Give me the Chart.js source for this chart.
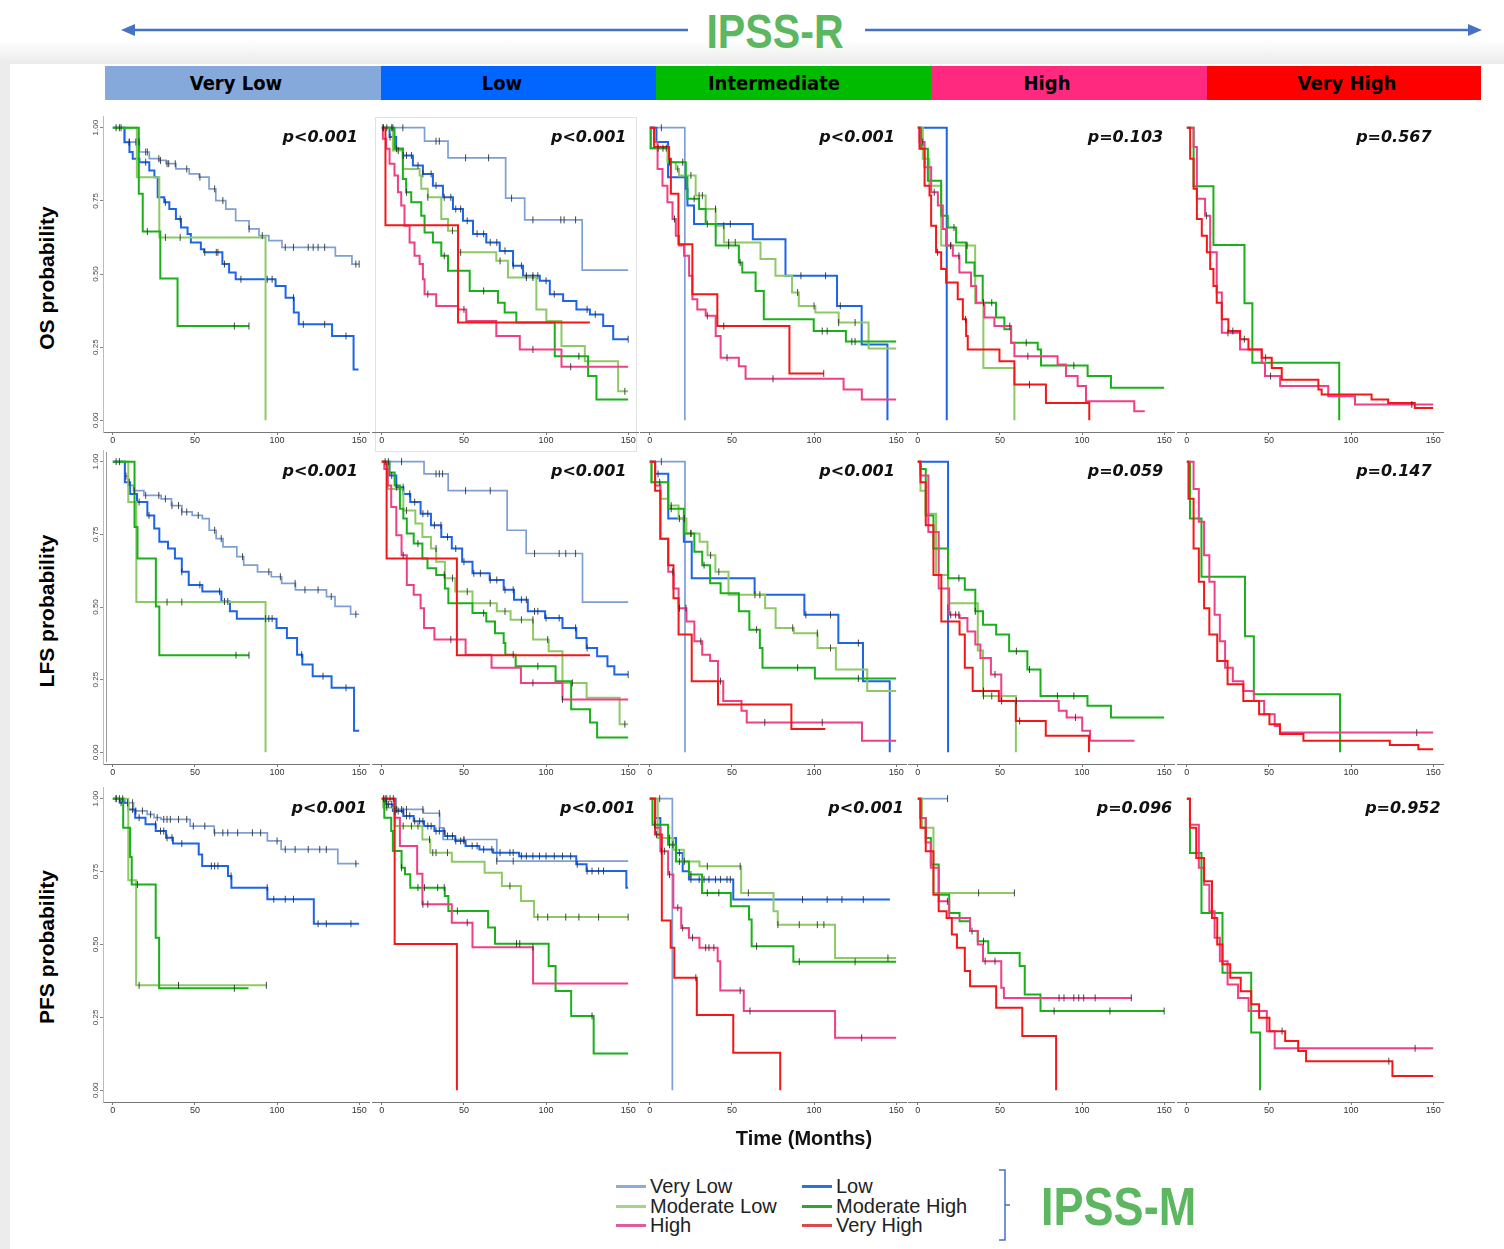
<!DOCTYPE html>
<html><head><meta charset="utf-8">
<script src="https://cdn.jsdelivr.net/npm/chart.js@4.4.1/dist/chart.umd.min.js"></script>
<style>
html,body{margin:0;padding:0;}
body{width:1504px;height:1249px;position:relative;overflow:hidden;background:#fff;font-family:"Liberation Sans",Arial,sans-serif;}
.abs{position:absolute;}
#bgT{left:0;top:40px;width:1504px;height:26px;background:linear-gradient(#ffffff,#e9e9e9);}
#bgL{left:0;top:60px;width:10px;height:1189px;background:#ececec;}
#card{left:10px;top:64px;width:1494px;height:1185px;background:#fff;}
.band{top:66px;height:34px;}
.bandtxt{top:66px;height:34px;line-height:34px;font-family:"DejaVu Sans Condensed","DejaVu Sans",sans-serif;font-weight:bold;font-size:20px;color:#000;transform:translateX(-50%);white-space:nowrap;}
.pval{font-family:"DejaVu Sans",sans-serif;font-weight:bold;font-style:italic;font-size:16px;color:#111;text-align:right;width:200px;height:20px;line-height:20px;white-space:nowrap;}
.ylab{font-weight:bold;font-size:21px;color:#000;white-space:nowrap;transform:translate(-50%,-50%) rotate(-90deg);}
.leg{font-size:20px;color:#222;line-height:20px;white-space:nowrap;}
.legline{height:2.5px;width:30px;}
canvas{position:absolute;}
</style>
</head><body>
<div id="bgT" class="abs"></div>
<div id="bgL" class="abs"></div>
<div id="card" class="abs"></div>
<div class="abs" style="left:375px;top:117px;width:260px;height:333px;border:1px solid #e2e2e2;"></div>
<div class="abs" style="left:106px;top:452px;width:1px;height:310px;background:#9a9a9a;"></div>
<svg class="abs" style="left:0;top:0" width="1504" height="60">
  <line x1="132" y1="30" x2="688" y2="30" stroke="#4472C4" stroke-width="2.5"/>
  <polygon points="121,30 135,24 135,36" fill="#4472C4"/>
  <line x1="865" y1="30" x2="1471" y2="30" stroke="#4472C4" stroke-width="2.5"/>
  <polygon points="1482,30 1468,24 1468,36" fill="#4472C4"/>
</svg>
<div class="abs" style="left:775px;top:5px;transform:translateX(-50%) scaleX(0.84);font-family:'Liberation Sans Narrow','Liberation Sans',sans-serif;font-weight:bold;font-size:49px;line-height:52px;color:#5DB760;white-space:nowrap;">IPSS-R</div>
<div id="header"></div>
<div id="plots"></div>
<div class="abs ylab" style="left:47px;top:278px;">OS probability</div>
<div class="abs ylab" style="left:47px;top:611px;">LFS probability</div>
<div class="abs ylab" style="left:47px;top:947px;">PFS probability</div>
<div class="abs" style="left:804px;top:1138px;transform:translate(-50%,-50%);font-weight:bold;font-size:20px;color:#111;white-space:nowrap;">Time (Months)</div>
<div id="legend"></div>
<svg class="abs" style="left:990px;top:1160px" width="30" height="90">
  <path d="M9,10 L15,10 L15,80 L9,80 M15,45 L20,45" stroke="#4472C4" stroke-width="1.5" fill="none"/>
</svg>
<div class="abs" style="left:1041px;top:1179px;transform-origin:0 0;transform:scaleX(0.85);font-family:'Liberation Sans Narrow','Liberation Sans',sans-serif;font-weight:bold;font-size:53px;line-height:56px;color:#5DB760;white-space:nowrap;">IPSS-M</div>
<script>
// ---------- labels ----------
const IPSSR_GROUPS = ['Very Low','Low','Intermediate','High','Very High'];
const IPSSR_COLORS = ['#86A9DC','#0066FF','#00BB00','#FF2A7F','#FF0000'];
const IPSSM_KEYS = ['VL','L','ML','MH','H','VH'];
const IPSSM_NAMES = ['Very Low','Low','Moderate Low','Moderate High','High','Very High'];
const IPSSM_COLORS = ['#7E9FD4','#1C64E8','#8DC965','#19B019','#EF3F86','#F21818'];
const LEGEND_COLORS = ['#8FAADC','#2E72E0','#A9D18E','#2EA62E','#DD5E9E','#DD4848'];
const X_TICKS = [0,50,100,150];
const Y_TICKS = [0,0.25,0.5,0.75,1];
const P_OS  = ['p<0.001','p<0.001','p<0.001','p=0.103','p=0.567'];
const P_LFS = ['p<0.001','p<0.001','p<0.001','p=0.059','p=0.147'];
const P_PFS = ['p<0.001','p<0.001','p<0.001','p=0.096','p=0.952'];

// ---------- OS ----------
const os_vl_VL=[[0,1],[7.1,0.951],[16.2,0.917],[22.2,0.894],[28.3,0.888],[32.4,0.877],[38.4,0.859],[46.5,0.842],[52.6,0.831],[58.6,0.791],[62.7,0.751],[68.8,0.722],[74.8,0.682],[82.9,0.654],[89,0.631],[95,0.614],[103,0.591],[135.5,0.562],[145.6,0.534],[150,0.534]];
const os_vl_VL_c=[2,4,5,10,14,16,20,21,28,29,33,34,38,45,53,62,67,83,91,105,110,119,122,125,129,148,150];
const os_vl_L=[[0,1],[7.1,0.95],[10.1,0.917],[12.1,0.894],[16.2,0.882],[22.2,0.854],[25.3,0.831],[27.3,0.762],[31.3,0.745],[34.4,0.722],[38.4,0.688],[41.5,0.659],[45.5,0.637],[47.5,0.608],[53.6,0.585],[55.6,0.574],[66.7,0.534],[70.8,0.505],[74.8,0.482],[99.1,0.459],[105.2,0.419],[110.2,0.368],[113.2,0.328],[133.5,0.288],[146.6,0.174],[149.6,0.174]];
const os_vl_L_c=[10,20,32,41,56,63,64,68,78,94,97,110,116,129,142];
const os_vl_ML=[[0,1],[14.6,0.831],[28.3,0.625],[93,0]];
const os_vl_ML_c=[32,41];
const os_vl_MH=[[0,1],[15.8,0.774],[18.2,0.645],[28.9,0.485],[39.4,0.322],[82.9,0.322]];
const os_vl_MH_c=[21,74,82.9];

const os_l_VL=[[0,1],[26,0.954],[40.3,0.897],[75.4,0.759],[87,0.685],[122,0.513],[150,0.513]];
const os_l_VL_c=[0.6,6.7,12.8,33,35,51,65,79,92,109,111,118];
const os_l_L=[[0,1],[4.7,0.968],[8.7,0.928],[12.8,0.905],[18.9,0.871],[25,0.842],[31.1,0.802],[37.2,0.762],[43.3,0.722],[49.4,0.682],[55.5,0.637],[63.6,0.608],[71.8,0.579],[79.9,0.528],[86,0.494],[96.2,0.477],[102.3,0.431],[110.4,0.408],[118.5,0.379],[126.7,0.362],[134.8,0.322],[140.9,0.277],[150,0.277]];
const os_l_L_c=[1,3,5,9,13,15,18,22,25,30,33,38,42,45,48,52,58,62,66,70,75,80,85,88,92,95,100,105,125,130,150];
const os_l_ML=[[0,1],[6.7,0.922],[12.8,0.859],[23,0.837],[24,0.791],[28,0.762],[36.2,0.688],[40.3,0.648],[46.4,0.574],[69.7,0.545],[76.8,0.488],[94.1,0.379],[100.2,0.339],[109.4,0.254],[123.6,0.202],[143.9,0.099],[150,0.099]];
const os_l_ML_c=[6,10,28,43,48,72,88,92,148];
const os_l_MH=[[0,1],[7.7,0.928],[12.8,0.825],[14.8,0.779],[17.9,0.745],[24,0.699],[26,0.642],[31.1,0.608],[36.2,0.562],[40.3,0.511],[53.5,0.442],[70.7,0.402],[74.8,0.368],[81.9,0.334],[105.3,0.219],[125.6,0.151],[130.7,0.071],[150,0.071]];
const os_l_MH_c=[15,38,62,120];
const os_l_H=[[0,1],[0.6,0.962],[2.6,0.928],[4.7,0.877],[7.7,0.837],[9.8,0.779],[11.8,0.734],[13.8,0.665],[16.9,0.608],[19.9,0.562],[23,0.534],[25,0.482],[26,0.431],[33.1,0.391],[46.4,0.379],[51.4,0.339],[69.7,0.288],[84,0.242],[109.4,0.183],[150,0.183]];
const os_l_H_c=[28,50,92,115];
const os_l_VH=[[0,1],[2.2,0.667],[46.4,0.334],[126.7,0.334]];

const os_i_VL=[[0,1],[21.3,0]];
const os_i_VL_c=[7];
const os_i_L=[[0,1],[4,0.951],[11.1,0.831],[21.9,0.791],[22.9,0.734],[26.9,0.671],[62.7,0.619],[82.6,0.494],[114,0.391],[129,0.259],[144.7,0]];
const os_i_L_c=[49,92,107,116];
const os_i_ML=[[0,1],[0.5,0.93],[10.7,0.882],[15.8,0.859],[17.8,0.837],[27.9,0.768],[34,0.722],[40.1,0.665],[45.1,0.608],[67.4,0.551],[76.5,0.494],[86.6,0.437],[90.7,0.391],[100.8,0.368],[115,0.334],[133.2,0.245],[150,0.245]];
const os_i_ML_c=[5,8,12,17,25,30,32,40,45,48,52,90,100,115,125];
const os_i_MH=[[0,1],[0.5,0.93],[11.7,0.882],[21.9,0.831],[22.9,0.757],[30,0.722],[34,0.671],[40.1,0.597],[54.2,0.539],[56.3,0.505],[64.4,0.442],[69.4,0.345],[99.8,0.305],[119.4,0.269],[150,0.269]];
const os_i_MH_c=[10,20,27,35,48,55,105,108,123,125];
const os_i_H=[[0,1],[2.6,0.951],[4.7,0.859],[7.7,0.802],[10.7,0.745],[13.8,0.688],[15.8,0.631],[17.8,0.597],[20.8,0.562],[23.9,0.494],[25.9,0.414],[28.9,0.379],[34,0.357],[40.1,0.288],[43.1,0.214],[54.2,0.185],[58.3,0.142],[118,0.105],[129.1,0.071],[150,0.071]];
const os_i_H_c=[15,35,47,75];
const os_i_VH=[[0,1],[2.6,0.934],[11.7,0.894],[12.8,0.774],[17.4,0.602],[25.9,0.431],[41.1,0.322],[85,0.16],[105.9,0.16]];
const os_i_VH_c=[45,105.9];

const os_h_L=[[0,1],[17.6,0]];
const os_h_ML=[[0,1],[3,0.894],[7,0.802],[14.2,0.597],[34.9,0.40],[39.9,0.179],[58.8,0]];
const os_h_ML_c=[20,30];
const os_h_MH=[[0,1],[2,0.928],[6.1,0.819],[14.2,0.699],[18.2,0.659],[23.3,0.608],[29.4,0.539],[34.5,0.494],[39.5,0.402],[47.6,0.351],[52.7,0.311],[56.8,0.265],[73,0.242],[75,0.187],[103.4,0.151],[117.6,0.111],[150,0.111]];
const os_h_MH_c=[22,45,66,95];
const os_h_H=[[0,1],[1,0.951],[4.1,0.865],[8.1,0.779],[12.2,0.734],[15.2,0.654],[17.2,0.597],[21.3,0.562],[25.3,0.505],[32.4,0.459],[35.5,0.402],[40.5,0.351],[46.6,0.322],[56.8,0.265],[58.8,0.219],[85.1,0.191],[90.2,0.151],[97.3,0.117],[102.4,0.065],[131.8,0.031],[138.2,0.031]];
const os_h_H_c=[3,10,20,25,40,56,67];
const os_h_VH=[[0,1],[1,0.928],[4.1,0.802],[7.1,0.768],[8.1,0.665],[11.1,0.574],[14.2,0.517],[17.2,0.471],[24.3,0.414],[27.4,0.345],[29.4,0.288],[30.4,0.242],[49.7,0.202],[58.8,0.122],[78,0.059],[104.4,0]];
const os_h_VH_c=[12,29,68];

const os_vh_MH=[[0,1],[4.1,0.8],[16.2,0.599],[35.1,0.40],[39.9,0.197],[92.8,0]];
const os_vh_H=[[0,1],[4.1,0.934],[6.1,0.757],[11.1,0.699],[14.2,0.574],[18.2,0.437],[21.3,0.299],[32.4,0.242],[45.6,0.197],[47.6,0.151],[56.8,0.117],[86.1,0.082],[102.4,0.054],[150,0.054]];
const os_vh_H_c=[12,25,51,137];
const os_vh_VH=[[0,1],[2,0.894],[4.1,0.791],[6.1,0.688],[9.1,0.631],[12.2,0.574],[14.2,0.517],[16.2,0.459],[18.2,0.402],[21.3,0.345],[25.3,0.305],[32.4,0.277],[37.5,0.242],[45.6,0.214],[51.7,0.179],[57.8,0.139],[80.1,0.105],[82.1,0.088],[112.5,0.071],[122.6,0.059],[138.8,0.042],[150,0.042]];
const os_vh_VH_c=[28,35,48];

// ---------- LFS ----------
const lfs_vl_VL=[[0,1],[7.3,0.95],[9.4,0.918],[12.6,0.90],[18.9,0.884],[29.4,0.872],[35.7,0.849],[42,0.827],[48.3,0.815],[54.5,0.804],[58.7,0.764],[62.9,0.735],[67.1,0.707],[75.5,0.673],[79.7,0.644],[88.1,0.621],[96.5,0.604],[102.8,0.581],[111.2,0.559],[130.1,0.536],[135.3,0.502],[144.8,0.475],[150,0.475]];
const lfs_vl_VL_c=[2,4,8,13,20,28,32,36,40,42,45,52,62,66,79,95,102,111,117,125,133,148];
const lfs_vl_L=[[0,1],[7.3,0.929],[10.5,0.889],[14.7,0.861],[21,0.815],[25.2,0.77],[28.3,0.724],[33.6,0.701],[37.8,0.667],[42,0.621],[46.2,0.576],[54.5,0.553],[66.1,0.519],[71.3,0.485],[75.5,0.46],[99.7,0.428],[106,0.393],[112.2,0.336],[115.4,0.302],[121.7,0.262],[133.2,0.222],[146.9,0.074],[150,0.074]];
const lfs_vl_L_c=[10,16,22,42,53,65,68,70,93,95,97,115,128,142];
const lfs_vl_ML=[[0,1],[9.4,0.861],[14.3,0.517],[93,0]];
const lfs_vl_ML_c=[33,42];
const lfs_vl_MH=[[0,1],[13.2,0.775],[15,0.667],[26.2,0.502],[28.3,0.334],[82.9,0.334]];
const lfs_vl_MH_c=[75,82.9];

const lfs_l_VL=[[0,1],[25.7,0.958],[40.4,0.90],[76.3,0.764],[87.9,0.684],[122.2,0.517],[150,0.517]];
const lfs_l_VL_c=[12,33,35,37,51,66,93,108,112,118];
const lfs_l_L=[[0,1],[4.6,0.952],[8.8,0.912],[13.1,0.889],[17.3,0.861],[23.6,0.821],[29.9,0.781],[36.2,0.741],[42.6,0.701],[48.9,0.656],[55.2,0.616],[65.7,0.593],[74.2,0.559],[80.5,0.525],[88.9,0.485],[99.4,0.462],[110,0.428],[118.4,0.393],[124.7,0.359],[131.1,0.331],[137.4,0.296],[141.6,0.268],[150,0.268]];
const lfs_l_L_c=[2,4,6,9,13,17,20,25,28,32,36,40,45,50,56,60,66,70,75,80,85,88,93,95,100,108,118,125,150];
const lfs_l_ML=[[0,1],[3.6,0.906],[13.1,0.832],[20.4,0.787],[24.7,0.741],[29.9,0.701],[33.1,0.656],[38.4,0.599],[44.7,0.553],[55.2,0.513],[70,0.485],[78.4,0.456],[92.1,0.388],[101.6,0.348],[110,0.239],[124.7,0.188],[144.8,0.097],[150,0.097]];
const lfs_l_ML_c=[15,33,43,52,66,75,85,92,101,116,148];
const lfs_l_MH=[[0,1],[4.6,0.963],[7.8,0.918],[11,0.838],[13.1,0.804],[15.2,0.753],[19.4,0.718],[24.7,0.667],[27.8,0.633],[33.1,0.61],[38.4,0.564],[40.5,0.513],[55.2,0.479],[63.6,0.45],[68.9,0.41],[74.2,0.376],[75.2,0.336],[81.5,0.296],[105.8,0.245],[115.3,0.148],[126.8,0.103],[131.1,0.051],[150,0.051]];
const lfs_l_MH_c=[22,38,62,80,95];
const lfs_l_H=[[0,1],[1.5,0.975],[3.6,0.918],[5.7,0.844],[8.8,0.747],[12,0.678],[15.2,0.576],[19.4,0.542],[23.6,0.496],[25.7,0.428],[32,0.388],[51,0.336],[66.8,0.291],[84.7,0.239],[110,0.182],[150,0.182]];
const lfs_l_H_c=[13,42,92,110];
const lfs_l_VH=[[0,1],[2.9,0.667],[45.7,0.334],[126.8,0.334]];

const lfs_i_VL=[[0,1],[21.4,0]];
const lfs_i_VL_c=[7];
const lfs_i_L=[[0,1],[3.2,0.958],[11.2,0.804],[20.7,0.724],[25.5,0.599],[63.8,0.542],[94.1,0.473],[114.8,0.376],[129.8,0.245],[146.1,0]];
const lfs_i_L_c=[5,18,64,95,110,127];
const lfs_i_ML=[[0,1],[1,0.929],[6.4,0.872],[11.2,0.849],[17.5,0.804],[22.3,0.753],[30.3,0.724],[35.1,0.678],[39.9,0.621],[47.9,0.542],[70.2,0.496],[76.6,0.428],[87.7,0.41],[102.1,0.359],[113.3,0.285],[132.4,0.211],[150,0.211]];
const lfs_i_ML_c=[6,13,21,25,37,42,67,87,102,110];
const lfs_i_MH=[[0,1],[1,0.929],[11.2,0.838],[20.7,0.753],[27.1,0.69],[31.9,0.644],[36.7,0.582],[43.1,0.547],[54.2,0.485],[60.6,0.422],[67,0.359],[68.6,0.291],[100.5,0.254],[150,0.254]];
const lfs_i_MH_c=[13,25,33,65,90,127];
const lfs_i_H=[[0,1],[3.2,0.918],[6.4,0.735],[11.2,0.621],[14.4,0.564],[17.5,0.496],[22.3,0.45],[27.1,0.382],[31.9,0.336],[36.7,0.314],[41.5,0.245],[44.7,0.177],[55.8,0.143],[59,0.103],[129.2,0.04],[150,0.04]];
const lfs_i_H_c=[14,18,22,31,43,70,105];
const lfs_i_VH=[[0,1],[3.2,0.9],[6.4,0.735],[11.2,0.644],[14.4,0.53],[17.5,0.405],[25.5,0.245],[41.5,0.165],[86.2,0.08],[106.9,0.08]];

const lfs_h_L=[[0,1],[18.4,0]];
const lfs_h_ML=[[0,1],[1.6,0.9],[4.8,0.821],[11.1,0.61],[18.4,0.513],[36.5,0.35],[39.7,0.194],[59.7,0]];
const lfs_h_ML_c=[40,45];
const lfs_h_MH=[[0,1],[1.6,0.975],[4.8,0.815],[9.5,0.701],[18.4,0.599],[28.6,0.559],[35,0.485],[39.7,0.439],[47.7,0.405],[55.6,0.348],[66.7,0.285],[74.7,0.194],[103.3,0.16],[117.6,0.12],[150,0.12]];
const lfs_h_MH_c=[25,35,60,68,85,95];
const lfs_h_H=[[0,1],[1.6,0.952],[6.4,0.758],[12.7,0.564],[19.1,0.473],[25.4,0.462],[30.2,0.416],[35,0.371],[38.1,0.325],[44.5,0.268],[50.8,0.177],[85.8,0.143],[90.6,0.12],[100.1,0.074],[104.9,0.04],[131.9,0.04]];
const lfs_h_H_c=[20,23,25,47,51,60,96];
const lfs_h_VH=[[0,1],[1.6,0.929],[4.8,0.781],[9.5,0.61],[14.3,0.45],[25.4,0.405],[28.6,0.291],[33.4,0.211],[49.3,0.177],[59.7,0.108],[77.9,0.057],[104.2,0]];
const lfs_h_VH_c=[40,62];

const lfs_vh_MH=[[0,1],[1.9,0.804],[8.9,0.604],[35.4,0.399],[40.8,0.2],[93.3,0]];
const lfs_vh_H=[[0,1],[4.1,0.906],[7.3,0.793],[10.5,0.678],[13.7,0.587],[16.9,0.473],[20.1,0.382],[23.3,0.291],[28,0.245],[34.4,0.211],[40.8,0.177],[47.1,0.131],[53.5,0.091],[56.7,0.068],[150,0.068]];
const lfs_vh_H_c=[140];
const lfs_vh_VH=[[0,1],[1,0.872],[4.1,0.701],[7.3,0.587],[10.5,0.496],[13.7,0.405],[18.5,0.314],[24.8,0.234],[34.4,0.177],[44,0.131],[50.3,0.097],[56.7,0.063],[71,0.04],[123.6,0.025],[141,0.011],[150,0.011]];

// ---------- PFS ----------
const pfs_vl_VL=[[0,1],[7.3,0.986],[12.6,0.958],[20.9,0.946],[25.1,0.935],[29.3,0.929],[47.1,0.906],[61.7,0.883],[94.1,0.855],[102.5,0.826],[137,0.777],[150,0.777]];
const pfs_vl_VL_c=[2,4,6,9,12,14,18,23,27,31,33,35,40,45,49,56,62,67,70,76,85,90,100,105,111,119,126,130,148];
const pfs_vl_L=[[0,1],[4.2,0.986],[9.4,0.963],[13.6,0.935],[19.9,0.912],[26.1,0.889],[32.4,0.866],[36.6,0.846],[52.3,0.809],[54.4,0.769],[70.1,0.735],[72.2,0.695],[94.1,0.655],[122.4,0.571],[150,0.571]];
const pfs_vl_L_c=[2,5,12,16,26,29,31,33,36,42,60,62,64,72,94,98,105,110,125,130,145];
const pfs_vl_ML=[[0,1],[9.4,0.72],[14.2,0.36],[93.5,0.36]];
const pfs_vl_ML_c=[16,40,93.5];
const pfs_vl_MH=[[0,1],[6.3,0.9],[10.5,0.8],[11.5,0.706],[26.1,0.523],[28.2,0.35],[82.6,0.35]];
const pfs_vl_MH_c=[15,74];

const pfs_l_VL=[[0,1],[8.8,0.963],[25.3,0.95],[35.2,0.9],[37.3,0.86],[70,0.786],[150,0.786]];
const pfs_l_VL_c=[2,3,5,7,9,12,15,25,35,50,70,80];
const pfs_l_L=[[0,1],[2.5,0.981],[6.7,0.958],[13.1,0.941],[19.4,0.923],[25.7,0.906],[32,0.889],[38.3,0.872],[44.7,0.855],[51,0.838],[59.4,0.826],[67.8,0.815],[83.6,0.803],[118.4,0.775],[124.7,0.752],[148.9,0.695],[150,0.695]];
const pfs_l_L_c=[1,3,4,6,8,10,13,15,17,20,23,25,28,30,33,35,38,40,43,45,48,50,55,58,62,67,72,78,80,85,88,92,96,100,105,110,115,119,125,128,132,135];
const pfs_l_ML=[[0,1],[0.8,0.97],[7.8,0.906],[24.7,0.86],[29.5,0.815],[42.6,0.784],[62.6,0.746],[73.1,0.701],[84.7,0.649],[92.7,0.594],[150,0.594]];
const pfs_l_ML_c=[3,13,18,22,29,31,33,40,78,95,101,112,120,132,150];
const pfs_l_MH=[[0,1],[1.5,0.935],[5.7,0.889],[6.7,0.821],[12,0.763],[14.1,0.741],[17.3,0.695],[38.3,0.666],[40.5,0.615],[64.7,0.558],[68.9,0.503],[101.6,0.426],[105.8,0.341],[115.3,0.255],[129,0.126],[150,0.126]];
const pfs_l_MH_c=[12,22,26,34,38,46,82,84,128];
const pfs_l_H=[[0,1],[7.8,0.935],[11,0.838],[21.5,0.743],[24.7,0.638],[42.6,0.575],[55.2,0.491],[92.1,0.366],[150,0.366]];
const pfs_l_H_c=[25,28,52,92];
const pfs_l_VH=[[0,1],[7.8,0.502],[45.7,0]];

const pfs_i_VL=[[0,1],[13.7,0]];
const pfs_i_VL_c=[6];
const pfs_i_L=[[0,1],[3.2,0.934],[6.4,0.865],[15.9,0.814],[20,0.751],[23.8,0.723],[50.8,0.654],[146.2,0.654]];
const pfs_i_L_c=[18,25,30,33,36,40,43,47,49,93,108,117,130];
const pfs_i_ML=[[0,1],[4.8,0.865],[14.3,0.825],[20.7,0.785],[30.2,0.768],[55.6,0.677],[75.3,0.614],[77.9,0.568],[112.8,0.454],[150,0.454]];
const pfs_i_ML_c=[12,21,35,55,60,78,91,102,106,145];
const pfs_i_MH=[[0,1],[1.6,0.911],[11.1,0.842],[15.9,0.785],[23.8,0.74],[31.8,0.677],[49.3,0.631],[60.4,0.586],[62,0.494],[87.4,0.441],[150,0.441]];
const pfs_i_MH_c=[3,12,14,18,25,35,42,65,91,125];
const pfs_i_H=[[0,1],[3.2,0.9],[6.4,0.82],[11.1,0.74],[14.3,0.626],[19.1,0.557],[23.8,0.523],[30.2,0.489],[41.3,0.443],[42.9,0.342],[57.2,0.272],[112.8,0.18],[150,0.18]];
const pfs_i_H_c=[7,9,12,17,20,26,34,36,39,55,61,129];
const pfs_i_VH=[[0,1],[3.2,0.877],[7.3,0.582],[12.7,0.489],[14.9,0.386],[28.6,0.258],[50.8,0.129],[79.4,0]];
const pfs_i_VH_c=[4,28];

const pfs_h_VL=[[0,1],[18.1,1]];
const pfs_h_VL_c=[18.1];
const pfs_h_ML=[[0,1],[2.5,0.9],[9.5,0.677],[58.8,0.677]];
const pfs_h_ML_c=[37,58.8];
const pfs_h_MH=[[0,1],[1.6,0.934],[4.8,0.865],[7.9,0.774],[12.7,0.671],[19.1,0.608],[25.4,0.58],[31.8,0.546],[36.5,0.511],[42.9,0.471],[62,0.426],[65.1,0.329],[74.7,0.272],[150,0.272]];
const pfs_h_MH_c=[40,83,117,150];
const pfs_h_H=[[0,1],[1.6,0.934],[4.8,0.85],[7.9,0.763],[12.7,0.648],[19.1,0.591],[31.8,0.546],[36.5,0.5],[39.7,0.443],[50.8,0.352],[52.4,0.317],[130.3,0.317]];
const pfs_h_H_c=[18,33,41,47,86,89,95,98,101,108,130];
const pfs_h_VH=[[0,1],[1.6,0.9],[4.8,0.82],[9.5,0.671],[12.7,0.614],[17.5,0.591],[20.7,0.534],[23.8,0.489],[28.6,0.409],[31.8,0.357],[47.7,0.283],[63.6,0.186],[84.2,0]];

const pfs_vh_MH=[[0,1],[1.9,0.814],[8.9,0.608],[21.7,0.403],[39.2,0.198],[44.6,0]];
const pfs_vh_H=[[0,1],[1.9,0.911],[7.3,0.763],[10.5,0.705],[13.7,0.614],[16.9,0.523],[20.1,0.443],[24.8,0.363],[31.2,0.317],[37.6,0.272],[48.7,0.203],[53.5,0.144],[150,0.144]];
const pfs_vh_H_c=[139];
const pfs_vh_VH=[[0,1],[1.9,0.9],[5.7,0.797],[10.5,0.717],[15.3,0.591],[18.5,0.5],[21.7,0.432],[26.4,0.386],[32.8,0.34],[39.2,0.295],[44,0.249],[50.3,0.203],[59.9,0.169],[67.8,0.135],[72.6,0.1],[125.2,0.049],[150,0.049]];
const pfs_vh_VH_c=[58,123];

// ---------- table built from the arrays ----------
const GRID = [
  [ {p:P_OS[0], c:{VL:[os_vl_VL,os_vl_VL_c],L:[os_vl_L,os_vl_L_c],ML:[os_vl_ML,os_vl_ML_c],MH:[os_vl_MH,os_vl_MH_c]}},
    {p:P_OS[1], c:{VL:[os_l_VL,os_l_VL_c],L:[os_l_L,os_l_L_c],ML:[os_l_ML,os_l_ML_c],MH:[os_l_MH,os_l_MH_c],H:[os_l_H,os_l_H_c],VH:[os_l_VH]}},
    {p:P_OS[2], c:{VL:[os_i_VL,os_i_VL_c],L:[os_i_L,os_i_L_c],ML:[os_i_ML,os_i_ML_c],MH:[os_i_MH,os_i_MH_c],H:[os_i_H,os_i_H_c],VH:[os_i_VH,os_i_VH_c]}},
    {p:P_OS[3], c:{L:[os_h_L],ML:[os_h_ML,os_h_ML_c],MH:[os_h_MH,os_h_MH_c],H:[os_h_H,os_h_H_c],VH:[os_h_VH,os_h_VH_c]}},
    {p:P_OS[4], c:{MH:[os_vh_MH],H:[os_vh_H,os_vh_H_c],VH:[os_vh_VH,os_vh_VH_c]}} ],
  [ {p:P_LFS[0], c:{VL:[lfs_vl_VL,lfs_vl_VL_c],L:[lfs_vl_L,lfs_vl_L_c],ML:[lfs_vl_ML,lfs_vl_ML_c],MH:[lfs_vl_MH,lfs_vl_MH_c]}},
    {p:P_LFS[1], c:{VL:[lfs_l_VL,lfs_l_VL_c],L:[lfs_l_L,lfs_l_L_c],ML:[lfs_l_ML,lfs_l_ML_c],MH:[lfs_l_MH,lfs_l_MH_c],H:[lfs_l_H,lfs_l_H_c],VH:[lfs_l_VH]}},
    {p:P_LFS[2], c:{VL:[lfs_i_VL,lfs_i_VL_c],L:[lfs_i_L,lfs_i_L_c],ML:[lfs_i_ML,lfs_i_ML_c],MH:[lfs_i_MH,lfs_i_MH_c],H:[lfs_i_H,lfs_i_H_c],VH:[lfs_i_VH]}},
    {p:P_LFS[3], c:{L:[lfs_h_L],ML:[lfs_h_ML,lfs_h_ML_c],MH:[lfs_h_MH,lfs_h_MH_c],H:[lfs_h_H,lfs_h_H_c],VH:[lfs_h_VH,lfs_h_VH_c]}},
    {p:P_LFS[4], c:{MH:[lfs_vh_MH],H:[lfs_vh_H,lfs_vh_H_c],VH:[lfs_vh_VH]}} ],
  [ {p:P_PFS[0], c:{VL:[pfs_vl_VL,pfs_vl_VL_c],L:[pfs_vl_L,pfs_vl_L_c],ML:[pfs_vl_ML,pfs_vl_ML_c],MH:[pfs_vl_MH,pfs_vl_MH_c]}},
    {p:P_PFS[1], c:{VL:[pfs_l_VL,pfs_l_VL_c],L:[pfs_l_L,pfs_l_L_c],ML:[pfs_l_ML,pfs_l_ML_c],MH:[pfs_l_MH,pfs_l_MH_c],H:[pfs_l_H,pfs_l_H_c],VH:[pfs_l_VH]}},
    {p:P_PFS[2], c:{VL:[pfs_i_VL,pfs_i_VL_c],L:[pfs_i_L,pfs_i_L_c],ML:[pfs_i_ML,pfs_i_ML_c],MH:[pfs_i_MH,pfs_i_MH_c],H:[pfs_i_H,pfs_i_H_c],VH:[pfs_i_VH,pfs_i_VH_c]}},
    {p:P_PFS[3], c:{VL:[pfs_h_VL,pfs_h_VL_c],ML:[pfs_h_ML,pfs_h_ML_c],MH:[pfs_h_MH,pfs_h_MH_c],H:[pfs_h_H,pfs_h_H_c],VH:[pfs_h_VH]}},
    {p:P_PFS[4], c:{MH:[pfs_vh_MH],H:[pfs_vh_H,pfs_vh_H_c],VH:[pfs_vh_VH,pfs_vh_VH_c]}} ]
];

// ---------- layout ----------
const ROW_Y1=[127.5,462,798.5], ROW_Y0=[420,752.5,1090.5];
const COL_X0=[113,381.4,649.8,918.2,1186.6];
const PXM=1.65, PT=10, PR=4, XH=20, YW=22;

// header band
const header=document.getElementById('header');
const bandX=[105,381,656,931,1207,1481], bandTextX=[236,502,774,1047,1347];
IPSSR_GROUPS.forEach((g,i)=>{
  const b=document.createElement('div'); b.className='abs band';
  b.style.left=bandX[i]+'px'; b.style.width=(bandX[i+1]-bandX[i])+'px'; b.style.background=IPSSR_COLORS[i];
  header.appendChild(b);
  const t=document.createElement('div'); t.className='abs bandtxt'; t.style.left=bandTextX[i]+'px'; t.textContent=g;
  header.appendChild(t);
});

// legend
const legend=document.getElementById('legend');
const legOrder=[[0,616,1186],[2,616,1206],[4,616,1225],[1,802,1186],[3,802,1206],[5,802,1225]];
legOrder.forEach(([k,x,y])=>{
  const l=document.createElement('div'); l.className='abs legline';
  l.style.left=x+'px'; l.style.top=(y-1)+'px'; l.style.background=LEGEND_COLORS[k]; legend.appendChild(l);
  const t=document.createElement('div'); t.className='abs leg';
  t.style.left=(x+34)+'px'; t.style.top=(y-10)+'px'; t.textContent=IPSSM_NAMES[k]; legend.appendChild(t);
});

Chart.defaults.font.family='Liberation Sans';
function stepAt(curve,t){let s=curve[0][1];for(const [x,y] of curve){if(x<=t)s=y;else break;}return s;}
const DRAW_ORDER=['VH','H','MH','ML','L','VL'];
const plots=document.getElementById('plots');

GRID.forEach((row,r)=>{
  row.forEach((panel,c)=>{
    const h=ROW_Y0[r]-ROW_Y1[r];
    const aL=Math.round(COL_X0[c]-6*PXM), aW=Math.round(162*PXM);
    const aT=Math.round(ROW_Y1[r]-0.04*h), aH=Math.round(1.08*h);
    const showY=c===0;
    const cv=document.createElement('canvas');
    cv.width=YW+aW+PR; cv.height=PT+aH+XH;
    cv.style.left=(aL-YW)+'px'; cv.style.top=(aT-PT)+'px';
    plots.appendChild(cv);
    const lines=[], cens=[];
    DRAW_ORDER.forEach(k=>{
      const e=panel.c[k]; if(!e) return;
      const ki=IPSSM_KEYS.indexOf(k);
      const curve=e[0];
      lines.push({label:IPSSM_NAMES[ki],data:curve.map(([x,y])=>({x,y})),borderColor:IPSSM_COLORS[ki],
        borderWidth:k==='VL'?1.7:2,stepped:'before',pointRadius:0,fill:false,tension:0});
      if(e[1]) cens.push({label:IPSSM_NAMES[ki]+' censored',data:e[1].map(t=>({x:t,y:stepAt(curve,t)})),
        showLine:false,pointStyle:'line',pointRotation:90,pointRadius:3.5,pointBorderColor:'rgba(40,40,40,0.85)',
        pointBackgroundColor:'rgba(40,40,40,0.85)',pointBorderWidth:1,borderColor:'rgba(40,40,40,0.85)'});
    });
    new Chart(cv,{type:'line',data:{datasets:cens.concat(lines)},
      options:{responsive:false,animation:false,events:[],
        layout:{padding:{top:PT,right:PR,left:0,bottom:0}},
        plugins:{legend:{display:false},tooltip:{enabled:false}},
        scales:{
          x:{type:'linear',min:-6,max:156,
            afterBuildTicks:s=>{s.ticks=X_TICKS.map(v=>({value:v}));},
            afterFit:s=>{s.height=XH;},
            grid:{display:true,drawOnChartArea:false,drawTicks:true,tickLength:3,color:'#777'},
            border:{display:true,color:'#777',width:1},
            ticks:{font:{size:9},color:'#333',padding:0,maxRotation:0,autoSkip:false,callback:v=>String(v)}},
          y:{type:'linear',min:-0.04,max:1.04,display:true,
            afterBuildTicks:s=>{s.ticks=Y_TICKS.map(v=>({value:v}));},
            afterFit:s=>{s.width=YW;},
            grid:{display:showY,drawOnChartArea:false,drawTicks:showY,tickLength:3,color:'#888'},
            border:{display:showY,color:'#bbb',width:1},
            ticks:{display:showY,font:{size:8},color:'#444',minRotation:90,maxRotation:90,crossAlign:'center',padding:-4,autoSkip:false,callback:v=>v.toFixed(2)}}
        }}});
    const pv=document.createElement('div'); pv.className='abs pval';
    const right=COL_X0[c]+245+(r===2?9:0);
    pv.style.left=(right-200)+'px'; pv.style.top=(ROW_Y1[r]+9-10)+'px'; pv.textContent=panel.p;
    plots.appendChild(pv);
  });
});
</script>
</body></html>
